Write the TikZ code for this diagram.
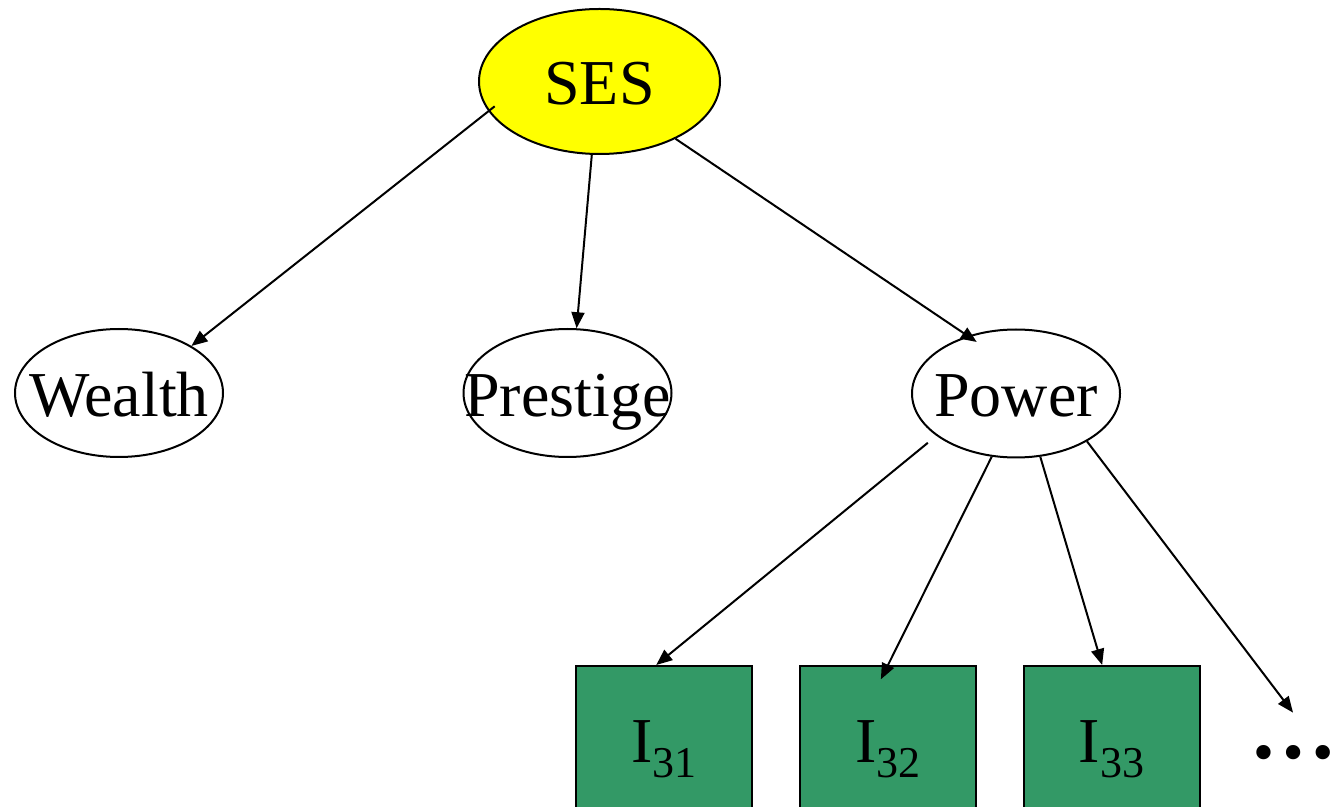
\documentclass[tikz,border=0pt]{standalone}
\usepackage{fontspec}
\setmainfont{Liberation Serif}
\usetikzlibrary{arrows.meta,shapes.geometric}

\definecolor{boxgreen}{RGB}{51,153,102}
\definecolor{factoryellow}{RGB}{255,255,0}

% indicator label with a lowered index
\newcommand{\itemlabel}[1]{I\raisebox{-7.5pt}{\fontsize{22}{22}\selectfont #1}}

\begin{document}
\begin{tikzpicture}[%
        x=0.5pt,
        y=-0.5pt,
        inner sep=0pt,
        node font=\fontsize{32}{38}\selectfont,
        factor/.style={%
            ellipse, draw, line width=1pt,
            inner xsep=-20pt,
            minimum width=104pt, minimum height=64pt,
            text height=23.5pt, text depth=0pt,
        },
        indicator/.style={%
            draw, line width=1pt, fill=boxgreen,
            minimum width=88pt, minimum height=88pt,
            text height=16pt, text depth=8pt,
        },
        link/.style={%
            -{Triangle[length=8pt,width=6.5pt]},
            line width=1pt,
        },
    ]

    \clip (0,0) rectangle (1334,807);

    \node (ses) at (599.5,81.5) [factor, fill=factoryellow, minimum width=120.5pt, minimum height=72.5pt] {SES};

    \node (wealth) at (119,393) [factor] {Wealth};
    \node (prestige) at (567.5,393) [factor] {Prestige};
    \node (power) at (1016,393.5) [factor] {Power};

    \foreach \n/\x in {31/664, 32/888, 33/1111.5} {%
        \node (item_\n) at (\x,754) [indicator] {\itemlabel{\n}};
    }
    \node (more_items) at (1293,758) [anchor=base, text height=22.5pt, text depth=0pt,
        node font=\fontsize{44}{44}\selectfont\bfseries] {…};

    \draw [link, shorten <=-4pt] (ses.195) -- (wealth.33);
    \draw [link] (ses.264) -- (prestige.82);
    \draw [link, shorten >=-5.5pt] (ses.323) -- (power.130);

    \draw [link, shorten <=5.5pt] (power.208) -- (item_31.95);
    \draw [link, shorten >=-8pt] (power.249) -- (item_32.north);
    \draw [link] (power.291) -- (item_33.96);
    \draw [link] (power.326) -- (more_items.north);
\end{tikzpicture}
\end{document}
